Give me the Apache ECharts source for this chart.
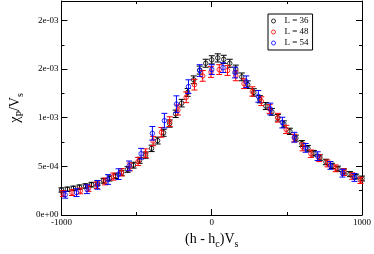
<!DOCTYPE html>
<html>
<head>
<meta charset="utf-8">
<script src="https://cdn.jsdelivr.net/npm/echarts@6/dist/echarts.min.js"></script>
<style>html,body{margin:0;padding:0;background:#fff}#c{width:374px;height:254px}</style>
</head>
<body>
<div id="c"></div>
<script>
// ---- data ----
const xTicks = [-1000, 0, 1000];
const seriesNames = ['L = 36', 'L = 48', 'L = 54'];

const xL36 = [-1000,-960,-920,-880,-840,-800,-760,-720,-680,-640,-600,-560,-520,-480,-440,-400,-360,-320,-280,-240,-200,-160,-120,-80,-40,0,40,80,120,160,200,240,280,320,360,400,440,480,520,560,600,640,680,720,760,800,840,880,920,960,1000];
const yL36 = [2.57e-4,2.65e-4,2.75e-4,2.86e-4,2.98e-4,3.12e-4,3.30e-4,3.52e-4,3.76e-4,4.02e-4,4.32e-4,4.68e-4,5.12e-4,5.62e-4,6.15e-4,6.85e-4,7.65e-4,8.45e-4,9.40e-4,10.4e-4,11.5e-4,12.6e-4,13.9e-4,14.9e-4,15.6e-4,15.95e-4,16.15e-4,16.0e-4,15.6e-4,15.0e-4,14.2e-4,13.4e-4,12.6e-4,11.9e-4,11.2e-4,10.6e-4,10.0e-4,9.35e-4,8.60e-4,7.90e-4,7.35e-4,6.85e-4,6.35e-4,5.90e-4,5.45e-4,5.05e-4,4.75e-4,4.48e-4,4.20e-4,3.95e-4,3.75e-4];
const eL36 = [0.22e-4,0.22e-4,0.22e-4,0.23e-4,0.23e-4,0.24e-4,0.24e-4,0.25e-4,0.26e-4,0.27e-4,0.28e-4,0.29e-4,0.30e-4,0.31e-4,0.32e-4,0.33e-4,0.35e-4,0.36e-4,0.37e-4,0.38e-4,0.39e-4,0.40e-4,0.40e-4,0.41e-4,0.41e-4,0.42e-4,0.42e-4,0.42e-4,0.41e-4,0.41e-4,0.40e-4,0.39e-4,0.38e-4,0.37e-4,0.36e-4,0.35e-4,0.34e-4,0.33e-4,0.32e-4,0.31e-4,0.30e-4,0.30e-4,0.29e-4,0.28e-4,0.28e-4,0.27e-4,0.27e-4,0.26e-4,0.26e-4,0.25e-4,0.25e-4];

const xL48 = [-990,-930,-875,-820,-765,-710,-655,-600,-545,-490,-440,-390,-335,-280,-225,-170,-115,-60,-5,50,105,160,215,270,330,385,440,495,550,605,660,715,770,825,880,935,990];
const yL48 = [2.20e-4,2.30e-4,2.48e-4,2.75e-4,3.05e-4,3.45e-4,3.95e-4,4.40e-4,4.95e-4,5.50e-4,6.35e-4,7.60e-4,8.50e-4,9.60e-4,10.8e-4,12.1e-4,13.4e-4,14.3e-4,14.7e-4,14.95e-4,14.85e-4,14.3e-4,13.5e-4,12.7e-4,11.7e-4,10.9e-4,10.0e-4,8.80e-4,7.90e-4,7.00e-4,6.30e-4,5.85e-4,5.30e-4,4.80e-4,4.40e-4,4.00e-4,3.56e-4];
const eL48 = [0.30e-4,0.30e-4,0.30e-4,0.32e-4,0.33e-4,0.35e-4,0.36e-4,0.38e-4,0.40e-4,0.42e-4,0.45e-4,0.48e-4,0.50e-4,0.50e-4,0.52e-4,0.55e-4,0.55e-4,0.55e-4,0.55e-4,0.50e-4,0.50e-4,0.50e-4,0.50e-4,0.48e-4,0.45e-4,0.45e-4,0.45e-4,0.42e-4,0.40e-4,0.40e-4,0.38e-4,0.36e-4,0.35e-4,0.35e-4,0.34e-4,0.33e-4,0.32e-4];

const xL54 = [-975,-900,-830,-760,-690,-620,-550,-470,-395,-315,-235,-155,-80,0,75,155,230,310,390,470,550,625,705,790,870,950];
const yL54 = [2.08e-4,2.30e-4,2.65e-4,3.10e-4,3.65e-4,4.20e-4,5.05e-4,6.30e-4,8.40e-4,9.70e-4,11.4e-4,13.2e-4,14.85e-4,14.95e-4,15.15e-4,14.65e-4,13.7e-4,12.2e-4,10.9e-4,9.50e-4,8.00e-4,6.90e-4,6.05e-4,5.10e-4,4.30e-4,3.86e-4];
const eL54 = [0.35e-4,0.40e-4,0.45e-4,0.45e-4,0.50e-4,0.55e-4,0.50e-4,0.55e-4,0.70e-4,0.75e-4,0.85e-4,0.70e-4,0.60e-4,0.50e-4,0.50e-4,0.55e-4,0.60e-4,0.60e-4,0.60e-4,0.55e-4,0.50e-4,0.45e-4,0.45e-4,0.40e-4,0.40e-4,0.40e-4];

// ---- chart ----
const FONT = '"Liberation Serif", "DejaVu Serif", serif';
const colors = ['#000000', '#ff0000', '#0000ff'];
const sets = [[xL36, yL36, eL36], [xL48, yL48, eL48], [xL54, yL54, eL54]];

function fmtExp(v) {
  const s = Number(v).toExponential(0);
  const m = s.match(/^(-?\d)e([+-])(\d+)$/);
  if (!m) return s;
  return m[1] + 'e' + m[2] + m[3].padStart(2, '0');
}

function makeErr(color) {
  return function (params, api) {
    const x = api.value(0), y = api.value(1), e = api.value(2);
    const p = api.coord([x, y]);
    const hi = api.coord([x, y + e]);
    const lo = api.coord([x, y - e]);
    const cw = 3;
    const st = { stroke: color, lineWidth: 1 };
    return {
      type: 'group',
      children: [
        { type: 'line', shape: { x1: p[0], y1: hi[1], x2: p[0], y2: lo[1] }, style: st },
        { type: 'line', shape: { x1: p[0] - cw, y1: hi[1], x2: p[0] + cw, y2: hi[1] }, style: st },
        { type: 'line', shape: { x1: p[0] - cw, y1: lo[1], x2: p[0] + cw, y2: lo[1] }, style: st }
      ]
    };
  };
}

const series = [];
sets.forEach((s, i) => {
  const [xs, ys, es] = s;
  series.push({
    type: 'custom', name: 'err' + i, xAxisIndex: 0, yAxisIndex: 0,
    renderItem: makeErr(colors[i]),
    data: xs.map((x, k) => [x, ys[k], es[k]]),
    encode: { x: 0, y: 1 }, silent: true, z: 2 + i * 2
  });
  series.push({
    type: 'scatter', name: seriesNames[i], xAxisIndex: 0, yAxisIndex: 0,
    symbol: 'circle', symbolSize: 4.5,
    itemStyle: { color: 'transparent', borderColor: colors[i], borderWidth: 1 },
    data: xs.map((x, k) => [x, ys[k]]), z: 3 + i * 2, silent: true
  });
});

const axLine = { show: true, onZero: false, lineStyle: { color: '#000', width: 1 } };
const noLine = { show: false, onZero: false };
const richName = {
  m: { fontFamily: FONT, fontSize: 14, color: '#000', lineHeight: 14, verticalAlign: 'top' },
  s: { fontFamily: FONT, fontSize: 10, color: '#000', lineHeight: 17, verticalAlign: 'bottom' }
};

const option = {
  animation: false,
  backgroundColor: '#fff',
  grid: { left: 45, right: 9, top: 1, bottom: 31, containLabel: false },
  legend: {
    orient: 'vertical', left: 268, top: 14,
    data: seriesNames.map((n, i) => ({
      name: n, icon: 'circle',
      itemStyle: { color: 'transparent', borderColor: colors[i], borderWidth: 1 }
    })),
    itemWidth: 12, itemHeight: 4, itemGap: 1,
    textStyle: { fontFamily: FONT, fontSize: 9, color: '#000', lineHeight: 10 },
    borderColor: '#000', borderWidth: 1, padding: [2, 4, 2, 3],
    selectedMode: false, backgroundColor: '#fff'
  },
  xAxis: [
    {
      type: 'value', position: 'bottom', min: -1000, max: 1000, interval: 1000,
      axisLine: axLine, splitLine: { show: false },
      axisTick: { show: true, inside: true, length: 6, lineStyle: { color: '#000' } },
      minorTick: { show: true, splitNumber: 2, length: 3, lineStyle: { color: '#000' } },
      axisLabel: { fontFamily: FONT, fontSize: 9, color: '#000', margin: 3,
        formatter: v => (xTicks.indexOf(v) >= 0 ? String(v) : '') },
      name: '{m|(h - h}{s|c}{m|)V}{s|s}', nameLocation: 'middle', nameGap: 17,
      nameTextStyle: { rich: richName }
    },
    {
      type: 'value', position: 'top', min: -1000, max: 1000, interval: 1000,
      axisLine: axLine, splitLine: { show: false },
      axisTick: { show: true, inside: true, length: 6, lineStyle: { color: '#000' } },
      minorTick: { show: true, splitNumber: 2, length: 3, lineStyle: { color: '#000' } },
      axisLabel: { show: false }
    }
  ],
  yAxis: [
    {
      type: 'value', position: 'left', min: 0, max: 0.0022, interval: 0.0005,
      axisLine: axLine, splitLine: { show: false },
      axisTick: { show: true, inside: true, length: 6, lineStyle: { color: '#000' } },
      axisLabel: { fontFamily: FONT, fontSize: 9, color: '#000', margin: 3,
        showMaxLabel: false, formatter: v => (v > 0.00201 ? '' : fmtExp(v)) },
      name: '{m|χ}{s|P}{m|/V}{s|s}', nameLocation: 'middle', nameGap: 28, nameRotate: 90,
      nameTextStyle: { rich: richName }
    },
    {
      type: 'value', position: 'left', min: 0, max: 0.0022, interval: 0.00025,
      axisLine: noLine, splitLine: { show: false },
      axisTick: { show: true, inside: true, length: 3, lineStyle: { color: '#000' } },
      axisLabel: { show: false }
    },
    {
      type: 'value', position: 'right', min: 0, max: 0.0022, interval: 0.0005,
      axisLine: axLine, splitLine: { show: false },
      axisTick: { show: true, inside: true, length: 6, lineStyle: { color: '#000' } },
      axisLabel: { show: false }
    },
    {
      type: 'value', position: 'right', min: 0, max: 0.0022, interval: 0.00025,
      axisLine: noLine, splitLine: { show: false },
      axisTick: { show: true, inside: true, length: 3, lineStyle: { color: '#000' } },
      axisLabel: { show: false }
    }
  ],
  series: series
};

const chart = echarts.init(document.getElementById('c'), null, { renderer: 'canvas' });
chart.setOption(option);
</script>
</body>
</html>
